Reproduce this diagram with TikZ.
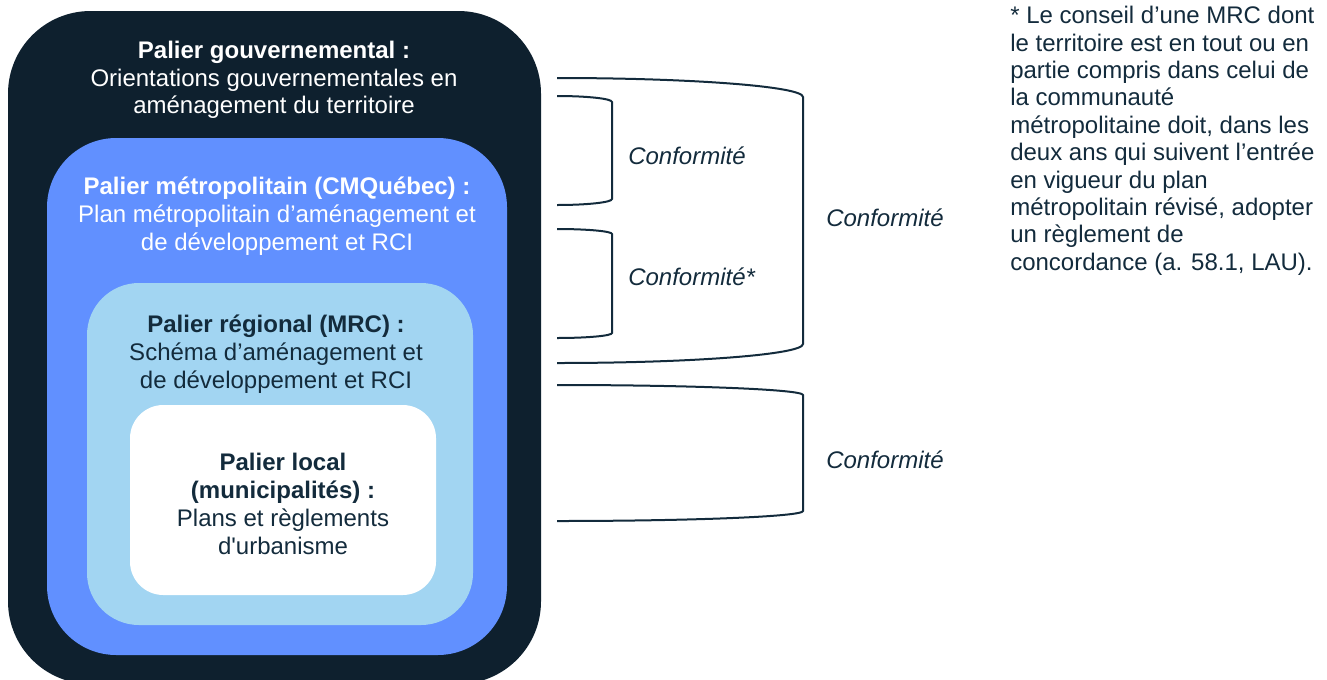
\documentclass[tikz,border=0pt]{standalone}
\usepackage{fontspec}
\setmainfont{Liberation Sans}
\definecolor{GovNavy}{HTML}{0E202E}
\definecolor{MetroBlue}{HTML}{6190FF}
\definecolor{RegBlue}{HTML}{A2D5F2}
\definecolor{InkNavy}{HTML}{132B3C}
\usepackage{xcolor}
\usepackage{tikz}

\begin{document}
\begin{tikzpicture}[x=0.75pt,y=-0.75pt,font=\fontsize{18}{20.8}\selectfont,
  palier/.style={align=center,inner sep=0pt},
  conf/.style={anchor=west,inner sep=0pt,text=InkNavy,font=\fontsize{18}{20.8}\selectfont\itshape},
  bracket/.style={draw=InkNavy,line width=1.5pt}]
  \useasboundingbox (0,0) rectangle (1327,679);

  % Palier gouvernemental (outer)
  \fill[GovNavy,rounded corners=62pt] (8,11) rectangle (541,684);
  \node[palier,text=white] (gov) at (274,80)
    {\textbf{Palier gouvernemental :}\\Orientations gouvernementales en\\aménagement du territoire};

  % Palier metropolitain
  \fill[MetroBlue,rounded corners=52pt] (47,138) rectangle (507,655);
  \node[palier,text=white] (metro) at (277,216)
    {\textbf{Palier métropolitain (CMQuébec) :}\\Plan métropolitain d’aménagement et\\de développement et RCI};

  % Palier regional
  \fill[RegBlue,rounded corners=39pt] (87,283) rectangle (473,625);
  \node[palier,text=InkNavy] (reg) at (276,354)
    {\textbf{Palier régional (MRC) :}\\Schéma d’aménagement et\\de développement et RCI};

  % Palier local
  \fill[white,rounded corners=25pt] (130,405) rectangle (436,595);
  \node[palier,text=InkNavy] (loc) at (283,504)
    {\textbf{Palier local}\\\textbf{(municipalités) :}\\Plans et règlements\\d\textquotesingle urbanisme};

  % Brackets
  \draw[bracket] (557,96) arc[start angle=-90,end angle=0,x radius=55,y radius=6]
    -- (612,199) arc[start angle=0,end angle=90,x radius=55,y radius=6];
  \draw[bracket] (557,229) arc[start angle=-90,end angle=0,x radius=55,y radius=5]
    -- (612,333) arc[start angle=0,end angle=90,x radius=55,y radius=5];
  \draw[bracket] (557,78) arc[start angle=-90,end angle=0,x radius=246,y radius=19]
    -- (803,344) arc[start angle=0,end angle=90,x radius=246,y radius=19];
  \draw[bracket] (557,385) arc[start angle=-90,end angle=0,x radius=246,y radius=10]
    -- (803,511) arc[start angle=0,end angle=90,x radius=246,y radius=10];

  \node[conf] (conf1) at (628,156) {Conformité};
  \node[conf] (conf2) at (628,277) {Conformité*};
  \node[conf] (conf3) at (826,218) {Conformité};
  \node[conf] (conf4) at (826,460) {Conformité};

  % Note
  \node[anchor=north west,align=left,inner sep=0pt,text=InkNavy,
    font=\fontsize{18}{20.55}\selectfont] (note) at (1010,6)
    {* Le conseil d’une MRC dont\\le territoire est en tout ou en\\partie compris dans celui de\\la communauté\\métropolitaine doit, dans les\\deux ans qui suivent l’entrée\\en vigueur du plan\\métropolitain révisé, adopter\\un règlement de\\concordance (a. 58.1, LAU).};
\end{tikzpicture}
\end{document}
